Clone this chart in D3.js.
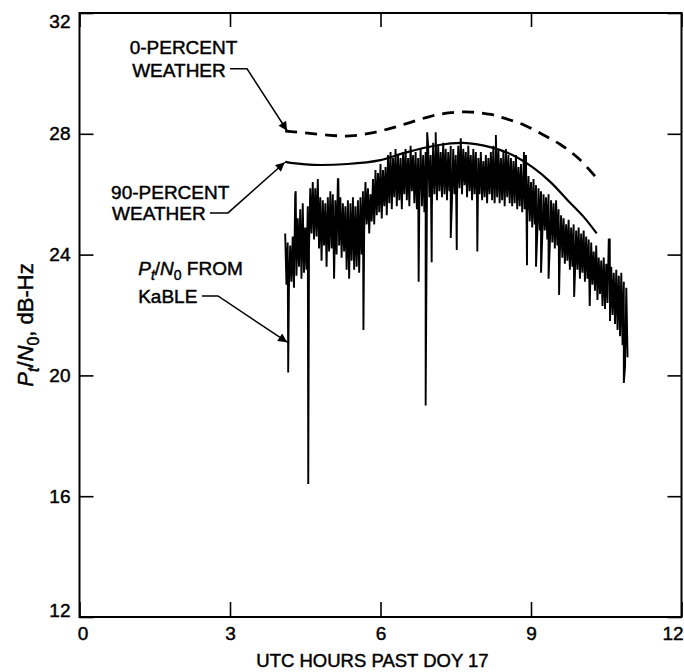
<!DOCTYPE html>
<html>
<head>
  <meta charset="utf-8">
  <title>Pt/N0 from KaBLE</title>
  <script src="https://cdnjs.cloudflare.com/ajax/libs/d3/7.8.5/d3.min.js"></script>
  <style>
    body {
      margin: 0;
      background: #fff;
    }
    svg text {
      font-family: "Liberation Sans", Arial, Helvetica, sans-serif;
      fill: #000;
      stroke: #000;
      stroke-width: 0.45px;
    }
    .tick line {
      stroke: #000;
      stroke-width: 1.6px;
    }
    .tick text {
      font-size: 19px;
    }
    .note {
      font-size: 19px;
    }
  </style>
</head>
<body>
  <div id="chart"></div>

  <script>
    // Axis ticks
    const xTicks = [0, 3, 6, 9, 12];
    const yTicks = [12, 16, 20, 24, 28, 32];

    // 0-percent weather prediction (dashed)
    const clearHours = [4.1, 4.5, 5.0, 5.4, 5.8, 6.2, 6.6, 7.0, 7.4, 7.8, 8.2, 8.5, 8.85, 9.25, 9.6, 9.95, 10.3];
    const clearValues = [28.09, 28.03, 27.95, 27.93, 28.02, 28.18, 28.38, 28.58, 28.7, 28.72, 28.64, 28.5, 28.3, 27.96, 27.63, 27.18, 26.55];

    // 90-percent weather prediction (solid)
    const wetHours = [4.1, 4.3, 4.66, 5.34, 6.0, 6.46, 7.13, 7.65, 8.19, 8.59, 9.05, 9.39, 9.73, 10.05, 10.31];
    const wetValues = [27.07, 27.02, 26.97, 27.0, 27.13, 27.36, 27.62, 27.7, 27.56, 27.33, 26.87, 26.4, 25.8, 25.25, 24.7];

    // KaBLE measurement, read as a high/low envelope every 0.05 h from 4.10 h
    const kableStart = 4.1;
    const kableStep = 0.05;
    const kableHigh = [
      24.7, 24.4, 24.3, 24.6, 26.0, 25.2, 25.5, 25.7, 24.9, 25.6,
      26.2, 26.4, 26.2, 26.5, 25.9, 25.8, 25.7, 25.9, 26.1, 26.0,
      25.8, 26.5, 25.9, 25.7, 25.6, 25.8, 25.7, 25.9, 25.6, 25.8,
      25.9, 26.1, 26.4, 26.2, 26.0, 26.5, 26.8, 26.7, 27.0, 26.8,
      26.9, 27.3, 27.4, 27.2, 27.5, 27.3, 27.2, 27.4, 27.5, 27.2,
      27.6, 27.3, 27.4, 27.2, 27.5, 27.3, 27.4, 27.6, 27.3, 27.7,
      27.5, 27.6, 27.4, 27.7, 27.5, 27.4, 27.6, 27.5, 27.3, 27.6,
      27.85, 27.5, 27.4, 27.6, 27.3, 27.5, 27.4, 27.2, 27.4, 27.1,
      27.3, 27.2, 27.4, 27.6, 27.3, 27.5, 27.2, 27.4, 27.5, 27.3,
      27.2, 27.1, 27.3, 26.9, 27.0, 26.8, 27.3, 26.6, 26.4, 26.5,
      26.3, 26.2, 26.1, 26.0, 25.9, 26.0, 25.8, 25.7, 25.8, 25.5,
      25.3, 25.2, 25.0, 25.15, 24.9, 25.0, 24.8, 24.9, 24.7, 24.8,
      24.6, 24.5, 24.4, 24.1, 24.3, 23.9, 23.8, 23.9, 23.7, 24.5,
      23.6, 23.4, 23.5, 23.3, 23.4, 23.1, 22.9
    ];
    const kableLow = [
      23.0, 22.9, 23.1, 22.9, 23.3, 23.6, 23.2, 23.4, 23.5, 24.2,
      24.7, 24.5, 24.6, 24.2, 23.8, 24.3, 23.6, 24.1, 24.2, 23.2,
      24.0, 24.3, 23.9, 24.1, 23.5, 23.2, 23.8, 23.5, 23.6, 23.4,
      24.0, 24.8, 25.0, 24.7, 25.1, 25.0, 25.3, 25.4, 25.2, 25.6,
      25.3, 25.7, 25.5, 25.9, 25.6, 25.8, 25.5, 26.0, 25.8, 25.6,
      26.1, 25.7, 25.5, 25.9, 25.6, 25.4, 25.7, 25.9, 25.6, 26.0,
      25.8, 26.1, 25.9, 26.0, 25.8, 26.1, 25.8, 26.0, 25.9, 26.2,
      26.0, 26.3, 25.9, 26.1, 25.8, 26.0, 25.7, 26.0, 25.8, 25.9,
      25.7, 26.0, 25.8, 25.7, 25.9, 25.7, 25.8, 25.6, 25.9, 25.7,
      25.6, 25.7, 25.5, 25.6, 25.4, 25.5, 25.3, 25.1, 24.9, 25.0,
      24.7, 24.8, 24.6, 24.8, 24.5, 24.3, 24.4, 24.2, 24.3, 24.0,
      23.9, 23.7, 23.8, 23.5, 23.6, 23.3, 23.5, 23.2, 23.4, 23.1,
      23.2, 22.6, 23.0, 22.8, 22.5, 22.7, 22.3, 22.2, 22.4, 21.8,
      22.0, 21.7, 21.5, 21.3, 21.0, 20.3, 20.6
    ];

    // Isolated dropouts and peaks of the KaBLE trace: [hour, dB-Hz]
    const kableSpikes = [
      [4.16, 20.1], [4.56, 16.4], [5.66, 21.5], [6.76, 23.1], [6.90, 19.0],
      [6.93, 28.05], [7.02, 23.75], [7.10, 28.05], [7.40, 24.55], [7.52, 24.15],
      [7.93, 24.1], [8.30, 27.96], [8.92, 23.65], [9.10, 23.6], [9.20, 23.4],
      [9.35, 23.2], [9.56, 22.66], [9.86, 22.6], [10.17, 22.3], [10.85, 19.75],
      [4.31, 26.1], [5.16, 26.5], [8.86, 27.4], [10.57, 24.5]
    ];

    // Callouts: text lines [hour, dB-Hz] and leader [hour, dB-Hz] points
    const notes = [
      { lines: [["0-PERCENT", 1.0, 30.64], ["WEATHER", 1.05, 29.88]],
        leader: [[3.0, 30.15], [3.34, 30.15], [4.14, 28.1]] },
      { lines: [["90-PERCENT", 0.63, 25.84], ["WEATHER", 0.65, 25.15]],
        leader: [[2.6, 25.38], [2.96, 25.38], [4.09, 27.05]] },
      { lines: [["KaBLE", 1.17, 22.4]],
        leader: [[2.44, 22.63], [2.76, 22.63], [4.14, 21.1]] }
    ];

    const width = 684;
    const height = 672;
    const margin = { top: 13, right: 2.5, bottom: 55, left: 79.5 };

    const svg = d3.select("#chart")
      .append("svg")
      .attr("width", width)
      .attr("height", height);

    const x = d3.scaleLinear().domain([0, 12]).range([margin.left, width - margin.right]);
    const y = d3.scaleLinear().domain([12, 32]).range([height - margin.bottom, margin.top]);

    svg.append("defs").append("marker")
      .attr("id", "head")
      .attr("viewBox", "0 0 10 10")
      .attr("refX", 10)
      .attr("refY", 5)
      .attr("markerUnits", "userSpaceOnUse")
      .attr("markerWidth", 20)
      .attr("markerHeight", 9)
      .attr("orient", "auto")
      .append("path")
      .attr("d", "M0,0L10,5L0,10Z")
      .attr("fill", "#000");

    // Axes with inward ticks on all four sides
    svg.append("g")
      .attr("transform", `translate(0,${y(12)})`)
      .call(d3.axisBottom(x).tickValues(xTicks).tickSize(-15).tickPadding(10))
      .call(g => g.select(".domain").remove())
      .call(g => g.selectAll(".tick text")
        .attr("dx", d => d === 0 ? 3 : d === 12 ? -9 : 0));

    svg.append("g")
      .attr("transform", `translate(0,${y(32)})`)
      .call(d3.axisTop(x).tickValues(xTicks).tickSize(-14).tickFormat(""))
      .call(g => g.select(".domain").remove());

    svg.append("g")
      .attr("transform", `translate(${x(0)},0)`)
      .call(d3.axisLeft(y).tickValues(yTicks).tickSize(-14).tickPadding(9))
      .call(g => g.select(".domain").remove())
      .call(g => g.selectAll(".tick text")
        .attr("dy", d => d === 12 ? "-0.05em" : d === 32 ? "0.75em" : "0.32em"));

    svg.append("g")
      .attr("transform", `translate(${x(12)},0)`)
      .call(d3.axisRight(y).tickValues(yTicks).tickSize(-14).tickFormat(""))
      .call(g => g.select(".domain").remove());

    svg.append("rect")
      .attr("x", x(0))
      .attr("y", y(32))
      .attr("width", x(12) - x(0))
      .attr("height", y(12) - y(32))
      .attr("fill", "none")
      .attr("stroke", "#000")
      .attr("stroke-width", 2);

    // KaBLE trace: zigzag between envelope values, with spikes merged in
    let kable = [];
    kableHigh.forEach((hi, i) => {
      const h = kableStart + i * kableStep;
      kable.push([h, hi]);
      kable.push([h + kableStep / 2, kableLow[i]]);
    });
    kable = kable.concat(kableSpikes).sort((a, b) => a[0] - b[0]);

    const line = d3.line()
      .x(d => x(d[0]))
      .y(d => y(d[1]));

    svg.append("path")
      .datum(kable)
      .attr("d", line)
      .attr("fill", "none")
      .attr("stroke", "#000")
      .attr("stroke-width", 1.9)
      .attr("stroke-linejoin", "miter")
      .attr("stroke-miterlimit", 2);

    const smooth = d3.line()
      .x(d => x(d[0]))
      .y(d => y(d[1]))
      .curve(d3.curveCatmullRom);

    svg.append("path")
      .datum(wetHours.map((h, i) => [h, wetValues[i]]))
      .attr("d", smooth)
      .attr("fill", "none")
      .attr("stroke", "#000")
      .attr("stroke-width", 2.2);

    svg.append("path")
      .datum(clearHours.map((h, i) => [h, clearValues[i]]))
      .attr("d", smooth)
      .attr("fill", "none")
      .attr("stroke", "#000")
      .attr("stroke-width", 2.8)
      .attr("stroke-dasharray", "12,8");

    // Callouts
    notes.forEach(n => {
      n.lines.forEach(([t, h, v]) => {
        svg.append("text")
          .attr("class", "note")
          .attr("x", x(h))
          .attr("y", y(v))
          .text(t);
      });
      svg.append("path")
        .attr("d", d3.line()(n.leader.map(p => [x(p[0]), y(p[1])])))
        .attr("fill", "none")
        .attr("stroke", "#000")
        .attr("stroke-width", 1.5)
        .attr("marker-end", "url(#head)");
    });

    // "Pt/N0 FROM" with subscripts
    const pn = svg.append("text")
      .attr("class", "note")
      .attr("x", x(1.17))
      .attr("y", y(23.32));
    pn.append("tspan").attr("font-style", "italic").text("P");
    pn.append("tspan").attr("font-style", "italic").attr("font-size", "14px").attr("dy", 5).text("t");
    pn.append("tspan").attr("dy", -5).text("/");
    pn.append("tspan").attr("font-style", "italic").text("N");
    pn.append("tspan").attr("font-size", "14px").attr("dy", 5).text("0");
    pn.append("tspan").attr("dy", -5).text(" FROM");

    // Axis titles
    svg.append("text")
      .attr("x", (x(0) + x(12)) / 2 - 8)
      .attr("y", 667)
      .attr("text-anchor", "middle")
      .attr("font-size", "18.5px")
      .text("UTC HOURS PAST DOY 17");

    const yl = svg.append("text")
      .attr("transform", `translate(33,${(y(12) + y(32)) / 2 + 10}) rotate(-90)`)
      .attr("text-anchor", "middle")
      .attr("font-size", "22px");
    yl.append("tspan").attr("font-style", "italic").text("P");
    yl.append("tspan").attr("font-style", "italic").attr("font-size", "16px").attr("dy", 6).text("t");
    yl.append("tspan").attr("dy", -6).text("/");
    yl.append("tspan").attr("font-style", "italic").text("N");
    yl.append("tspan").attr("font-size", "16px").attr("dy", 6).text("0");
    yl.append("tspan").attr("dy", -6).text(", dB-Hz");
  </script>
</body>
</html>
